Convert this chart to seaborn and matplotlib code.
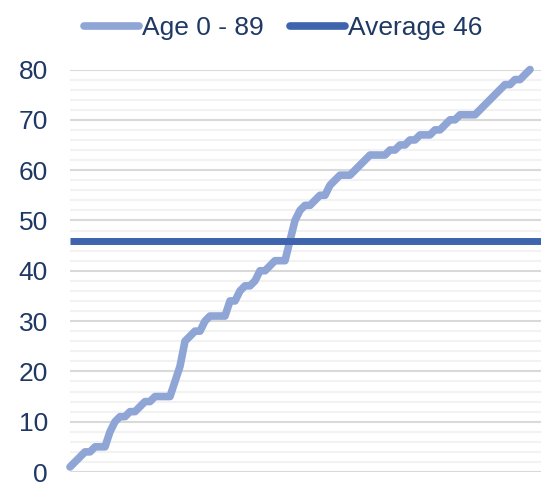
import numpy as np
import pandas as pd
import matplotlib
matplotlib.use("Agg")
import matplotlib.pyplot as plt
from matplotlib.ticker import MultipleLocator
from matplotlib.lines import Line2D
import seaborn as sns

# sorted ages
ages = [1, 2, 3, 4, 4, 5, 5, 5, 8, 10, 11, 11, 12, 12, 13, 14, 14, 15, 15, 15,
        15, 18, 21, 26, 27, 28, 28, 30, 31, 31, 31, 31, 34, 34, 36, 37, 37, 38,
        40, 40, 41, 42, 42, 42, 46, 50, 52, 53, 53, 54, 55, 55, 57, 58, 59, 59,
        59, 60, 61, 62, 63, 63, 63, 63, 64, 64, 65, 65, 66, 66, 67, 67, 67, 68,
        68, 69, 70, 70, 71, 71, 71, 71, 72, 73, 74, 75, 76, 77, 77, 78, 78, 79, 80]
average = 46
series_labels = ["Age 0 - 89", "Average 46"]
yticks = [0, 10, 20, 30, 40, 50, 60, 70, 80]

light = "#8FA5D6"
dark = "#3D64AD"
text_col = "#1F3864"

sns.set_theme(style="white")
plt.rcParams['font.family'] = ['Liberation Sans', 'DejaVu Sans']

df = pd.DataFrame({"idx": np.arange(len(ages)), "age": ages})

fig = plt.figure(figsize=(5.41, 4.87), dpi=100)
ax = fig.add_axes([70 / 541, 15 / 487, 471 / 541, 402.5 / 487])

# gridlines: major every 10, minor every 2
ax.yaxis.set_major_locator(MultipleLocator(10))
ax.yaxis.set_minor_locator(MultipleLocator(2))
ax.grid(which="minor", axis="y", color="#F2F2F2", lw=1.5)
ax.grid(which="major", axis="y", color="#D9D9D9", lw=1.5)
ax.set_axisbelow(True)

sns.lineplot(data=df, x="idx", y="age", ax=ax, color=light, lw=5.5,
             solid_capstyle="round", solid_joinstyle="round", clip_on=False)
ax.axhline(average, color=dark, lw=5, solid_capstyle="butt")

n = len(ages)
ax.set_xlim(0, (n - 1) * 471 / 460)
ax.set_ylim(0, 80)
ax.set_yticks(yticks)
ax.set_xticks([])
ax.set_xlabel("")
ax.set_ylabel("")
ax.tick_params(axis="y", which="both", length=0, pad=16, labelsize=19,
               labelcolor=text_col)
for s in ax.spines.values():
    s.set_visible(False)

handles = [Line2D([], [], color=light, lw=5.5, solid_capstyle="round"),
           Line2D([], [], color=dark, lw=5.5, solid_capstyle="round")]
fig.legend(handles, series_labels, loc="upper center", ncol=2,
           bbox_to_anchor=(283 / 541, 1.015), frameon=False, fontsize=19,
           labelcolor=text_col, handlelength=2.1, handletextpad=0.1,
           columnspacing=1.0)

fig.savefig("out.png", dpi=100)
